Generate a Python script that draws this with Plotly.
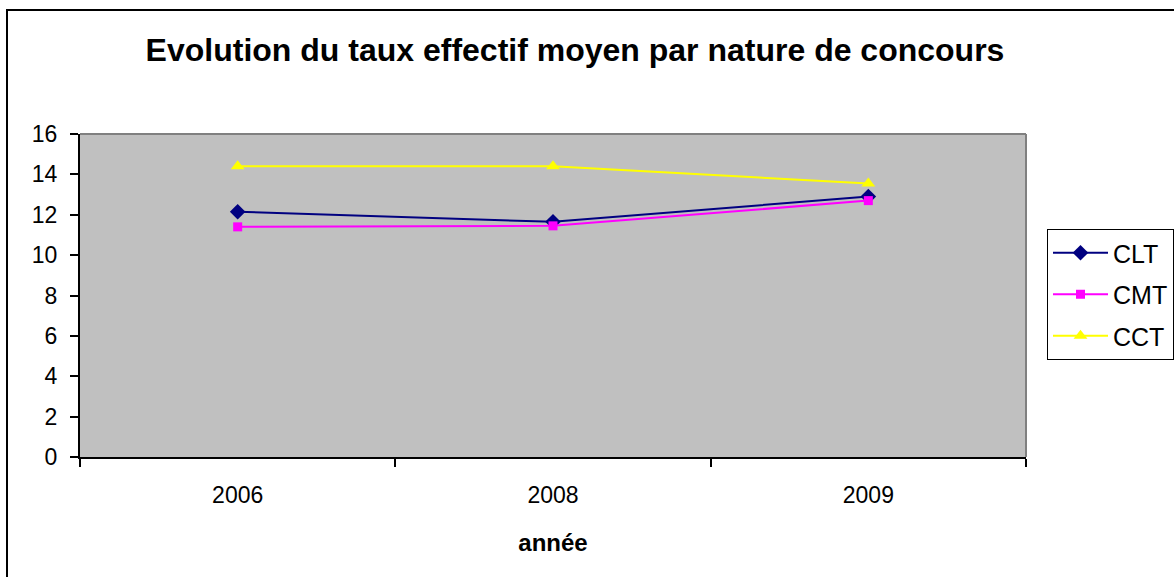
import plotly.graph_objects as go

years = ["2006", "2008", "2009"]
clt = [12.15, 11.65, 12.9]
cmt = [11.4, 11.45, 12.7]
cct = [14.4, 14.4, 13.55]

W, H = 1174, 577
L, R, T, B = 80, 1026, 134, 457
pw, ph = R - L, B - T


def px(x):
    return (x - L) / pw


def py(y):
    return (B - y) / ph


font = "Liberation Sans, Arial, sans-serif"

fig = go.Figure()
fig.add_trace(go.Scatter(x=years, y=clt, name="CLT", mode="lines+markers", legendgroup="a",
                         line=dict(color="#000080", width=2),
                         marker=dict(symbol="diamond", size=12, color="#000080")))
fig.add_trace(go.Scatter(x=years, y=cmt, name="CMT", mode="lines+markers", legendgroup="b",
                         line=dict(color="#FF00FF", width=2),
                         marker=dict(symbol="square", size=9, color="#FF00FF")))
fig.add_trace(go.Scatter(x=years, y=cct, name="CCT", mode="lines+markers", legendgroup="c",
                         line=dict(color="#FFFF00", width=2),
                         marker=dict(symbol="triangle-up", size=12, color="#FFFF00")))

fig.update_layout(
    width=W, height=H,
    margin=dict(l=L, r=W - R, t=T, b=H - B, autoexpand=False),
    paper_bgcolor="white",
    plot_bgcolor="#C0C0C0",
    font=dict(family=font, size=23, color="black"),
    title=dict(text="<b>Evolution du taux effectif moyen par nature de concours</b>",
               x=px(575), xref="paper", xanchor="center", y=1 - 50 / H, yanchor="middle",
               font=dict(size=32, family=font)),
    showlegend=True,
    legend=dict(x=px(1047), y=py(229), xanchor="left", yanchor="top",
                bordercolor="black", borderwidth=1, bgcolor="white",
                font=dict(size=25, family=font), tracegroupgap=6,
                itemwidth=55),
    xaxis=dict(type="category", range=[-0.5, 2.5], showline=True, linecolor="black",
               linewidth=2, ticks="outside", tickson="boundaries", ticklen=8, tickwidth=2,
               tickcolor="black", showgrid=False, zeroline=False,
               tickfont=dict(size=23), ticklabelstandoff=16,
               title=dict(text="<b>année</b>", font=dict(size=24), standoff=28)),
    yaxis=dict(range=[0, 16], dtick=2, showline=True, linecolor="black", linewidth=2,
               ticks="outside", ticklen=8, tickwidth=2, tickcolor="black",
               showgrid=False, zeroline=False, tickfont=dict(size=23),
               ticklabelstandoff=8),
    shapes=[
        dict(type="line", xref="paper", yref="paper", x0=0, x1=1, y0=1, y1=1,
             line=dict(color="#808080", width=2)),
        dict(type="line", xref="paper", yref="paper", x0=1, x1=1, y0=0, y1=1,
             line=dict(color="#808080", width=2)),
        dict(type="rect", xref="paper", yref="paper",
             x0=px(7), x1=px(1190), y0=py(590), y1=py(10),
             line=dict(color="black", width=2), layer="below"),
    ],
)

fig.write_html("out.html", config={"displayModeBar": False},
               post_script="document.body.style.margin='0';")
